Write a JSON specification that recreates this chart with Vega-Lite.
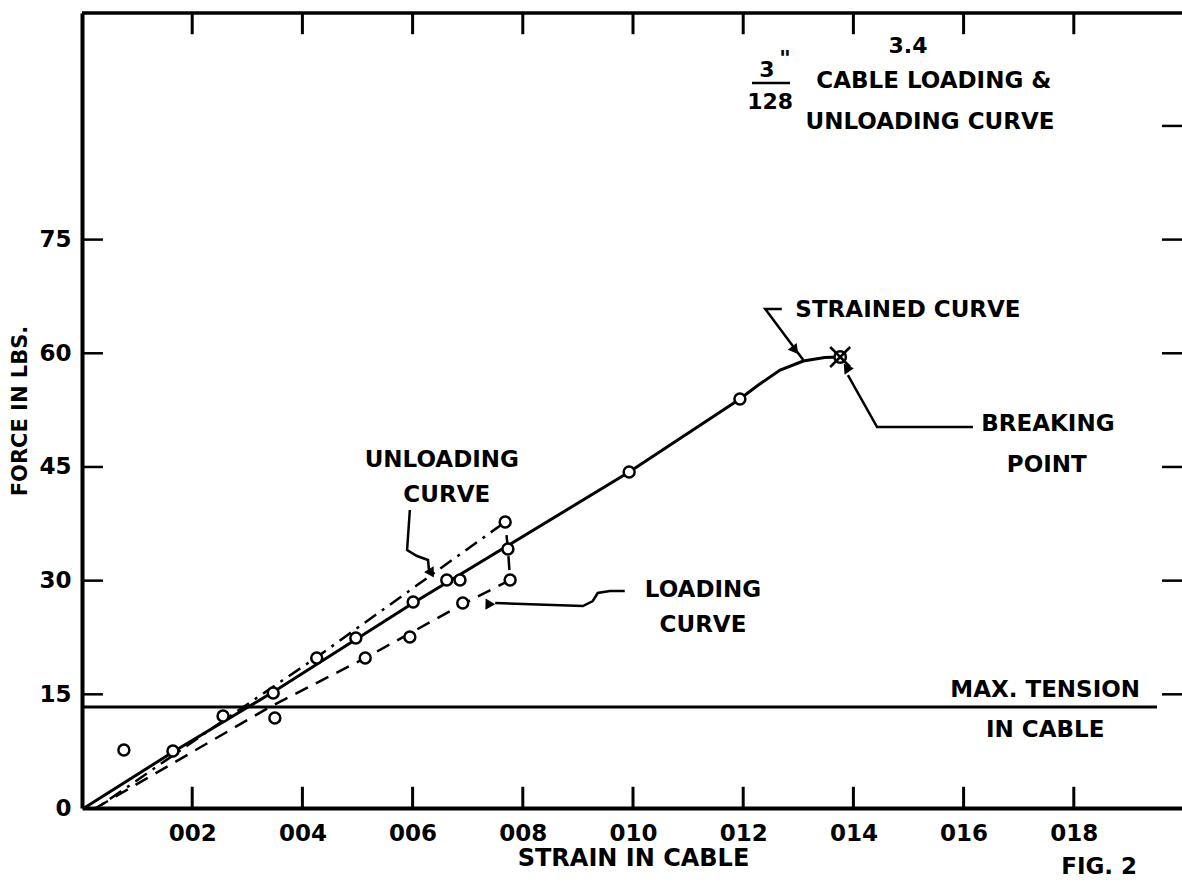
{
  "$schema": "https://vega.github.io/schema/vega-lite/v6.json",
  "width": 1102,
  "height": 795,
  "autosize": {"type": "none"},
  "padding": {"left": 82, "top": 13, "right": 0, "bottom": 75},
  "background": "white",
  "config": {"view": {"stroke": null}, "text": {"font": "DejaVu Sans", "fontWeight": "bold", "color": "black"}},
  "datasets": {
    "circles": [
      {"x": 0.00076, "y": 7.65}, {"x": 0.00165, "y": 7.52}, {"x": 0.00256, "y": 12.14}, {"x": 0.00347, "y": 15.17},
      {"x": 0.0035, "y": 11.87}, {"x": 0.00426, "y": 19.79}, {"x": 0.00514, "y": 19.79}, {"x": 0.00497, "y": 22.43},
      {"x": 0.00595, "y": 22.56}, {"x": 0.00601, "y": 27.18}, {"x": 0.00691, "y": 27.05}, {"x": 0.00662, "y": 30.08},
      {"x": 0.00686, "y": 30.08}, {"x": 0.00777, "y": 30.08}, {"x": 0.00773, "y": 34.17}, {"x": 0.00768, "y": 37.74},
      {"x": 0.00993, "y": 44.33}, {"x": 0.01194, "y": 53.97}
    ],
    "strained": [
      {"i": 0, "x": 0.00004, "y": 0}, {"i": 1, "x": 0.00165, "y": 7.39}, {"i": 2, "x": 0.00347, "y": 15.3},
      {"i": 3, "x": 0.00601, "y": 27.05}, {"i": 4, "x": 0.00993, "y": 44.33}, {"i": 5, "x": 0.01194, "y": 53.97},
      {"i": 6, "x": 0.01225, "y": 55.68}, {"i": 7, "x": 0.01267, "y": 57.79}, {"i": 8, "x": 0.01309, "y": 58.98},
      {"i": 9, "x": 0.01348, "y": 59.44}, {"i": 10, "x": 0.01376, "y": 59.51}
    ],
    "loading": [
      {"i": 0, "x": 0.00025, "y": 0}, {"i": 1, "x": 0.00341, "y": 13.33}, {"i": 2, "x": 0.00514, "y": 19.79},
      {"i": 3, "x": 0.00691, "y": 26.9}, {"i": 4, "x": 0.00777, "y": 30.08}, {"i": 5, "x": 0.00773, "y": 34.17}
    ],
    "unloading": [
      {"i": 0, "x": 0.00773, "y": 34.17}, {"i": 1, "x": 0.00768, "y": 37.74}, {"i": 2, "x": 0.00426, "y": 19.9},
      {"i": 3, "x": 0.00274, "y": 12.4}, {"i": 4, "x": 0.00027, "y": 0}
    ],
    "leaders": [
      {"g": "strained", "i": 0, "x": 0.0127, "y": 65.84}, {"g": "strained", "i": 1, "x": 0.0124, "y": 65.84}, {"g": "strained", "i": 2, "x": 0.01309, "y": 59.1},
      {"g": "breaking", "i": 0, "x": 0.0139, "y": 57.13}, {"g": "breaking", "i": 1, "x": 0.01443, "y": 50.27}, {"g": "breaking", "i": 2, "x": 0.01617, "y": 50.27},
      {"g": "unloading", "i": 0, "x": 0.00595, "y": 39.32}, {"g": "unloading", "i": 1, "x": 0.0059, "y": 34.04}, {"g": "unloading", "i": 2, "x": 0.00608, "y": 33.25},
      {"g": "unloading", "i": 3, "x": 0.00628, "y": 32.72}, {"g": "unloading", "i": 4, "x": 0.0063, "y": 31.14},
      {"g": "loading", "i": 0, "x": 0.0075, "y": 27.05}, {"g": "loading", "i": 1, "x": 0.00909, "y": 26.65}, {"g": "loading", "i": 2, "x": 0.00927, "y": 27.31},
      {"g": "loading", "i": 3, "x": 0.00936, "y": 28.37}, {"g": "loading", "i": 4, "x": 0.00958, "y": 28.63}, {"g": "loading", "i": 5, "x": 0.00985, "y": 28.63}
    ],
    "arrows": [
      {"arrow": "strained", "x": 0.01294, "y": 60.43},
      {"arrow": "breaking", "x": 0.01388, "y": 57.79},
      {"arrow": "unloading", "x": 0.0063, "y": 31.14},
      {"arrow": "loading", "x": 0.00737, "y": 27.05}
    ],
    "labels": [
      {"x": 0.01499, "y": 65.7, "text": "STRAINED CURVE"},
      {"x": 0.01753, "y": 50.7, "text": "BREAKING"},
      {"x": 0.01751, "y": 45.3, "text": "POINT"},
      {"x": 0.01748, "y": 15.6, "text": "MAX. TENSION"},
      {"x": 0.01748, "y": 10.3, "text": "IN CABLE"},
      {"x": 0.00653, "y": 45.9, "text": "UNLOADING"},
      {"x": 0.00662, "y": 41.3, "text": "CURVE"},
      {"x": 0.01127, "y": 28.8, "text": "LOADING"},
      {"x": 0.01127, "y": 24.1, "text": "CURVE"},
      {"x": 0.01546, "y": 95.92, "text": "CABLE LOADING &"},
      {"x": 0.01539, "y": 90.51, "text": "UNLOADING CURVE"},
      {"x": 0.01846, "y": -7.78, "text": "FIG. 2"}
    ],
    "small": [
      {"x": 0.01499, "y": 100.54, "text": "3.4"},
      {"x": 0.01243, "y": 97.37, "text": "3"},
      {"x": 0.01276, "y": 98.8, "text": "\""},
      {"x": 0.01249, "y": 93.1, "text": "128"}
    ],
    "xticks": [{"v": 0.002}, {"v": 0.004}, {"v": 0.006}, {"v": 0.008}, {"v": 0.01}, {"v": 0.012}, {"v": 0.014}, {"v": 0.016}, {"v": 0.018}],
    "lticks": [{"v": 15}, {"v": 30}, {"v": 45}, {"v": 60}, {"v": 75}],
    "rticks": [{"v": 15}, {"v": 30}, {"v": 45}, {"v": 60}, {"v": 75}, {"v": 90}],
    "tension": [{"x": 0, "x2": 0.01951, "y": 13.33}],
    "fracbar": [{"x": 0.01216, "x2": 0.01285, "y": 95.66}],
    "breaking": [{"x": 0.01376, "y": 59.51}]
  },
  "encoding": {
    "x": {"type": "quantitative", "scale": {"domain": [0, 0.02], "nice": false, "zero": false},
      "axis": {"orient": "bottom", "values": [0.002, 0.004, 0.006, 0.008, 0.01, 0.012, 0.014, 0.016, 0.018],
        "labelExpr": "'0' + (round(datum.value*1000) < 10 ? '0' : '') + round(datum.value*1000)",
        "ticks": false, "domainWidth": 4, "domainColor": "black",
        "labelFont": "DejaVu Sans", "labelFontWeight": "bold", "labelFontSize": 23, "labelColor": "black", "labelPadding": 14, "labelFlush": false,
        "title": "STRAIN IN CABLE", "titleFont": "DejaVu Sans", "titleFontWeight": "bold", "titleFontSize": 24, "titleColor": "black", "titlePadding": 1, "grid": false}},
    "y": {"type": "quantitative", "scale": {"domain": [0, 104.9], "nice": false},
      "axis": {"orient": "left", "values": [0, 15, 30, 45, 60, 75],
        "ticks": false, "domainWidth": 4, "domainColor": "black",
        "labelFont": "DejaVu Sans", "labelFontWeight": "bold", "labelFontSize": 23, "labelColor": "black", "labelPadding": 11, "labelFlush": false,
        "title": "FORCE IN LBS.", "titleFont": "DejaVu Sans", "titleFontWeight": "bold", "titleFontSize": 21, "titleColor": "black", "titlePadding": 8, "grid": false}}
  },
  "layer": [
    {
      "data": {"name": "xticks"},
      "mark": {"type": "rule", "stroke": "black", "strokeWidth": 3, "opacity": 1},
      "encoding": {"x": {"field": "v"}, "x2": {"field": "v"}, "y": {"datum": 104.9}, "y2": {"datum": 102.1}}
    },
    {
      "data": {"name": "xticks"},
      "mark": {"type": "rule", "stroke": "black", "strokeWidth": 3, "opacity": 1},
      "encoding": {"x": {"field": "v"}, "x2": {"field": "v"}, "y": {"datum": 0}, "y2": {"datum": 2.8}}
    },
    {
      "data": {"name": "lticks"},
      "mark": {"type": "rule", "stroke": "black", "strokeWidth": 2.5, "opacity": 1},
      "encoding": {"y": {"field": "v"}, "x": {"datum": 0}, "x2": {"datum": 0.00038}}
    },
    {
      "data": {"name": "rticks"},
      "mark": {"type": "rule", "stroke": "black", "strokeWidth": 2.5, "opacity": 1},
      "encoding": {"y": {"field": "v"}, "x": {"datum": 0.02}, "x2": {"datum": 0.0196}}
    },
    {
      "data": {"name": "tension"},
      "mark": {"type": "rule", "stroke": "black", "strokeWidth": 3},
      "encoding": {"x": {"field": "x"}, "x2": {"field": "x2"}, "y": {"field": "y"}}
    },
    {
      "data": {"name": "fracbar"},
      "mark": {"type": "rule", "stroke": "black", "strokeWidth": 2.5},
      "encoding": {"x": {"field": "x"}, "x2": {"field": "x2"}, "y": {"field": "y"}}
    },
    {
      "data": {"name": "tension"},
      "mark": {"type": "rule", "stroke": "black", "strokeWidth": 3.5},
      "encoding": {"x": {"datum": 0}, "x2": {"datum": 0.02}, "y": {"datum": 104.9}}
    },
    {
      "data": {"name": "strained"},
      "mark": {"type": "line", "stroke": "black", "strokeWidth": 3},
      "encoding": {"x": {"field": "x"}, "y": {"field": "y"}, "order": {"field": "i"}}
    },
    {
      "data": {"name": "loading"},
      "mark": {"type": "line", "stroke": "black", "strokeWidth": 2.5, "strokeDash": [14, 9]},
      "encoding": {"x": {"field": "x"}, "y": {"field": "y"}, "order": {"field": "i"}}
    },
    {
      "data": {"name": "unloading"},
      "mark": {"type": "line", "stroke": "black", "strokeWidth": 2.5, "strokeDash": [14, 7, 3, 7]},
      "encoding": {"x": {"field": "x"}, "y": {"field": "y"}, "order": {"field": "i"}}
    },
    {
      "data": {"name": "leaders"},
      "mark": {"type": "line", "stroke": "black", "strokeWidth": 2.5},
      "encoding": {"x": {"field": "x"}, "y": {"field": "y"}, "detail": {"field": "g"}, "order": {"field": "i"}}
    },
    {
      "data": {"name": "arrows"},
      "mark": {"type": "point", "shape": "triangle-up", "filled": true, "fill": "black", "stroke": "black", "strokeWidth": 1, "size": 90, "opacity": 1},
      "encoding": {
        "x": {"field": "x"}, "y": {"field": "y"},
        "angle": {"field": "arrow", "type": "nominal", "scale": {"domain": ["strained", "breaking", "unloading", "loading"], "range": [143, 331, 180, 270]}, "legend": null}
      }
    },
    {
      "data": {"name": "circles"},
      "mark": {"type": "point", "shape": "circle", "filled": true, "fill": "white", "stroke": "black", "strokeWidth": 2.5, "size": 120, "opacity": 1},
      "encoding": {"x": {"field": "x"}, "y": {"field": "y"}}
    },
    {
      "data": {"name": "breaking"},
      "mark": {"type": "point", "shape": "circle", "filled": true, "fill": "white", "stroke": "black", "strokeWidth": 2.5, "size": 130, "opacity": 1},
      "encoding": {"x": {"field": "x"}, "y": {"field": "y"}}
    },
    {
      "data": {"name": "breaking"},
      "mark": {"type": "point", "shape": "M -1 -1 L 1 1 M 1 -1 L -1 1", "filled": false, "stroke": "black", "strokeWidth": 2.5, "size": 400, "opacity": 1},
      "encoding": {"x": {"field": "x"}, "y": {"field": "y"}}
    },
    {
      "data": {"name": "labels"},
      "mark": {"type": "text", "fontSize": 23, "align": "center", "baseline": "middle", "font": "DejaVu Sans", "fontWeight": "bold"},
      "encoding": {"x": {"field": "x"}, "y": {"field": "y"}, "text": {"field": "text"}}
    },
    {
      "data": {"name": "small"},
      "mark": {"type": "text", "fontSize": 22, "align": "center", "baseline": "middle", "font": "DejaVu Sans", "fontWeight": "bold"},
      "encoding": {"x": {"field": "x"}, "y": {"field": "y"}, "text": {"field": "text"}}
    }
  ]
}
